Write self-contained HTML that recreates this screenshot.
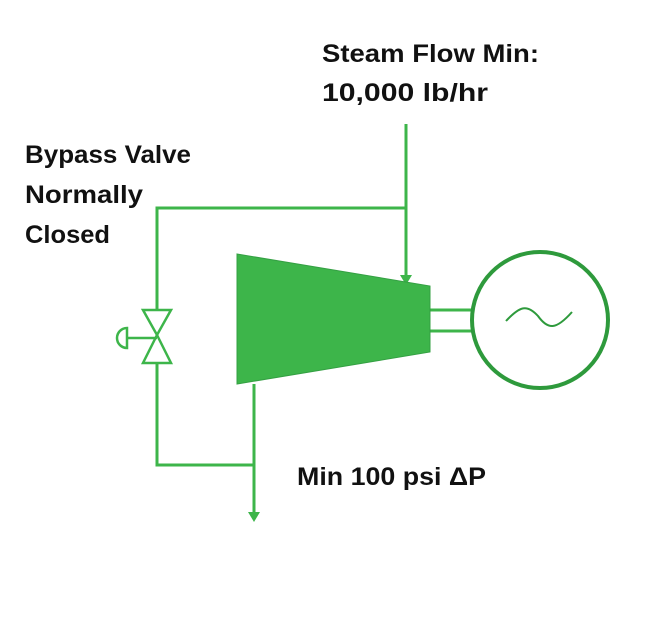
<!DOCTYPE html>
<html><head><style>
body{margin:0;background:#fff;}
svg text{font-family:"Liberation Sans",sans-serif;font-weight:bold;font-size:25px;fill:#111;}
</style></head><body>
<svg width="669" height="613" viewBox="0 0 669 613" xmlns="http://www.w3.org/2000/svg">
<g stroke="#3db54a" stroke-width="3" fill="none">
<polyline points="157,310 157,208 406,208"/>
<line x1="406" y1="124" x2="406" y2="276"/>
<polyline points="157,363 157,465 254,465"/>
<line x1="254" y1="384" x2="254" y2="514"/>
<polygon points="143,310 171,310 157,335" stroke-width="2.5"/>
<polygon points="143,363 171,363 157,335" stroke-width="2.5"/>
<line x1="128" y1="338" x2="157" y2="338" stroke-width="2.5"/>
<path d="M127,328 A10,10 0 0 0 127,348 Z" stroke-width="2.5"/>
<line x1="430" y1="310" x2="472" y2="310"/>
<line x1="430" y1="331" x2="472" y2="331"/>
</g>
<polygon points="400,275 412,275 406,285" fill="#3db54a"/>
<polygon points="248,512 260,512 254,522" fill="#3db54a"/>
<polygon points="237,254 430,286 430,352 237,384" fill="#3db54a" stroke="#34a043" stroke-width="1"/>
<circle cx="540" cy="320" r="68" fill="none" stroke="#2e9a3c" stroke-width="4"/>
<path d="M506,321 C520,306 527,304 538,316 C548,330 556,330 572,312" fill="none" stroke="#2e9a3c" stroke-width="2"/>
<text x="322" y="62" textLength="217" lengthAdjust="spacingAndGlyphs">Steam Flow Min:</text>
<text x="322" y="101" textLength="166" lengthAdjust="spacingAndGlyphs">10,000 lb/hr</text>
<text x="25" y="163" textLength="166" lengthAdjust="spacingAndGlyphs">Bypass Valve</text>
<text x="25" y="203" textLength="118" lengthAdjust="spacingAndGlyphs">Normally</text>
<text x="25" y="243" textLength="85" lengthAdjust="spacingAndGlyphs">Closed</text>
<text x="297" y="485" textLength="189" lengthAdjust="spacingAndGlyphs">Min 100 psi ΔP</text>
</svg>
</body></html>
